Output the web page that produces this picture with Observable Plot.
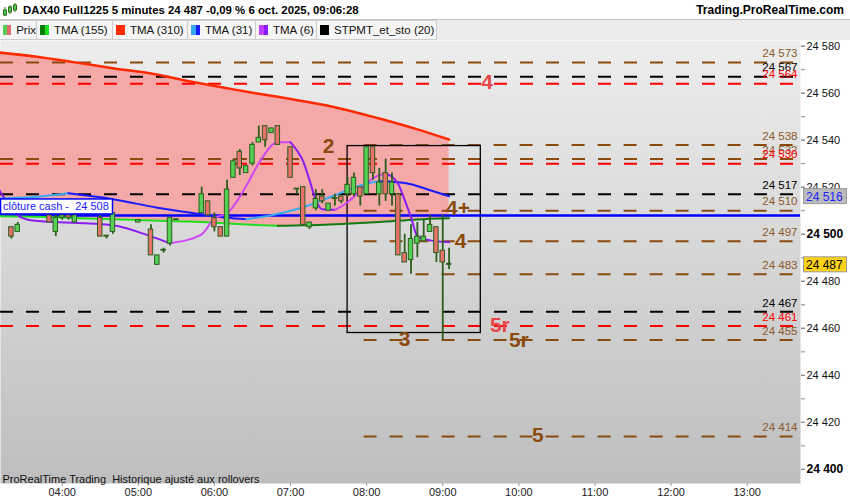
<!DOCTYPE html>
<html>
<head>
<meta charset="utf-8">
<script src="https://cdn.jsdelivr.net/npm/d3@7"></script>
<script src="https://cdn.jsdelivr.net/npm/@observablehq/plot@0.6"></script>
<style>
  body { margin: 0; width: 850px; height: 500px; overflow: hidden; background: #fff; font-family: "Liberation Sans", Arial, sans-serif; }
  #title { position: relative; height: 19px; border-bottom: 1px solid #c4c4c4; font-weight: bold; }
  #title .name { position: absolute; left: 23px; top: 4px; font-size: 11.4px; }
  #title .site { position: absolute; right: 6px; top: 3px; font-size: 12px; }
  #title svg { position: absolute; left: 3px; top: 3px; }
  #legend { height: 20px; background: #ececec; display: flex; }
  #legend .item { box-sizing: border-box; display: flex; align-items: center; height: 20px; background: #f5f5f5; border: 1px solid #cdcdcd; border-left: none; font-size: 11.5px; color: #111; }
  .sw { width: 9px; height: 10px; margin: 0 5px 0 3px; display: flex; }
  .sw i { flex: 1; }
</style>
</head>
<body>
<div id="title">
  <svg width="14" height="14"><g stroke="#2a6a1a" fill="#4fcf4f"><line x1="2" y1="4" x2="2" y2="13"/><rect x="0.5" y="7" width="3" height="5"/><line x1="7" y1="2" x2="7" y2="11"/><rect x="5.5" y="4" width="3" height="5"/><line x1="12" y1="0" x2="12" y2="9"/><rect x="10.5" y="2" width="3" height="5"/></g></svg>
  <span class="name">DAX40 Full1225 5 minutes 24 487 -0,09 % 6 oct. 2025, 09:06:28</span>
  <span class="site">Trading.ProRealTime.com</span>
</div>
<div id="legend">
  <div class="item" style="width:37px"><span class="sw"><i style="background:#55cc55"></i><i style="background:#e56b6b"></i></span>Prix</div>
  <div class="item" style="width:76px"><span class="sw"><i style="background:#0a7a0a"></i><i style="background:#1ee01e"></i></span>TMA (155)</div>
  <div class="item" style="width:75px"><span class="sw"><i style="background:#ff2a00"></i></span>TMA (310)</div>
  <div class="item" style="width:68px"><span class="sw"><i style="background:#35a8f0"></i><i style="background:#1a1aff"></i></span>TMA (31)</div>
  <div class="item" style="width:61px"><span class="sw"><i style="background:#c040ff"></i><i style="background:#8a1aff"></i></span>TMA (6)</div>
  <div class="item" style="width:120px"><span class="sw"><i style="background:#000"></i></span>STPMT_et_sto (20)</div>
</div>
<div id="chart"></div>
<script>
// candles, 5 minutes
const candleTime = ["03:20","03:25","03:50","03:55","04:00","04:05","04:10","04:30","04:35","04:40",
  "05:00","05:10","05:15","05:20","05:25","05:30","05:50","05:55","06:00","06:05",
  "06:10","06:15","06:20","06:25","06:30","06:35","06:40","06:45","06:50","07:00",
  "07:05","07:10","07:15","07:20","07:25","07:30","07:35","07:40","07:45","07:50",
  "07:55","08:00","08:05","08:10","08:15","08:20","08:25","08:30","08:35","08:40",
  "08:45","08:50","08:55","09:00","09:05"];
const candleOpen = [24503,24501,24508,24501,24507,24508,24505,24507,24499,24501,
  24505,24502,24487,24493,24496,24506,24509,24514,24507,24503,
  24499,24524,24535,24526,24530,24539,24546,24543,24546,24537,
  24519,24520,24503,24511,24516,24510,24515,24516,24517,24517,
  24520,24517,24537,24517,24526,24517,24517,24492,24489,24496,
  24497,24501,24503,24493,24487];
const candleHigh = [24503,24505,24509,24508,24509,24508,24508,24508,24499,24509,
  24506,24504,24491,24494,24507,24506,24520,24514,24509,24503,
  24523,24532,24536,24529,24539,24546,24546,24545,24546,24537,
  24519,24520,24505,24519,24519,24513,24517,24516,24524,24526,
  24520,24537,24537,24528,24532,24526,24517,24500,24504,24505,
  24506,24508,24503,24508,24494];
const candleLow = [24498,24501,24505,24499,24506,24506,24505,24499,24498,24500,
  24505,24491,24487,24492,24495,24506,24509,24508,24501,24499,
  24499,24524,24525,24526,24529,24539,24537,24543,24538,24524,
  24517,24504,24502,24510,24513,24510,24512,24513,24516,24516,
  24512,24517,24523,24512,24514,24512,24491,24488,24483,24490,
  24497,24501,24488,24455,24485];
const candleClose = [24499,24504,24505,24507,24508,24507,24508,24499,24499,24509,
  24506,24491,24491,24493,24507,24506,24517,24508,24503,24499,
  24519,24531,24528,24529,24538,24541,24540,24545,24538,24524,
  24519,24504,24505,24515,24514,24513,24515,24514,24521,24524,
  24516,24537,24526,24522,24517,24522,24491,24488,24498,24499,
  24499,24504,24492,24488,24487];

// moving averages
const longTime = ["03:10","03:40","04:10","04:40","05:10","05:40","06:10","06:30","06:50","07:10","07:40","08:10","08:40","09:05"];
const tma310 = [24577.3,24575.5,24573.1,24570.6,24568.4,24565.1,24562.1,24560.2,24558.5,24556.6,24553.4,24549.2,24544.6,24540.3];
const tma155 = [24507.7,24507.4,24506.9,24506.4,24505.8,24505.4,24504.6,24504.0,24503.6,24503.8,24504.4,24505.2,24506.3,24506.8];
const tma31Time = ["03:10","03:35","04:05","04:40","05:15","05:50","06:10","06:25","06:45","07:10","07:35","07:55","08:10","08:20","08:35","08:50","09:05"];
const tma31 = [24515.3,24515.7,24517.4,24514.9,24511.3,24508.5,24507.0,24506.4,24508.1,24511.5,24516.6,24520.8,24522.5,24522.3,24521.3,24518.7,24516.2];
const tma6Time = ["03:10","03:25","03:35","04:40","05:10","05:25","05:50","06:00","06:10","06:25","06:35","06:50","07:00","07:05","07:10",
  "07:15","07:20","07:25","07:35","07:45","07:55","08:05","08:15","08:25","08:30","08:35","08:40","08:50","09:05"];
const tma6 = [24519.1,24508.1,24506.0,24503.8,24499.1,24496.2,24500.0,24506.8,24508.9,24520.4,24530.2,24539.1,24539.1,24535.7,24531.0,
  24523.0,24514.5,24510.6,24510.4,24513.6,24518.7,24523.8,24525.9,24521.3,24514.5,24507.2,24499.1,24497.4,24496.6];

// horizontal levels
const brownFull = [24573, 24532];
const brownLate = [24538, 24510, 24497, 24483, 24455, 24414];
const blackLevels = [24567, 24517, 24467];
const redLevels = [24564, 24530, 24461];
const lateStart = "07:58";
const cashClose = 24508;
const boxTime = ["07:45", "09:30"];
const boxPrice = [24458, 24537.5];

// annotations
const noteText = ["2", "4+", "4", "3", "5r", "5"];
const noteTime = ["07:30", "09:12", "09:14", "08:30", "10:00", "10:15"];
const notePrice = [24537.5, 24511, 24497, 24455.5, 24455, 24414.5];
const redNoteText = ["5r", "4"];
const redNoteTime = ["09:45", "09:35"];
const redNotePrice = [24461.5, 24564.8];

const hourTicks = ["04:00","05:00","06:00","07:00","08:00","09:00","10:00","11:00","12:00","13:00"];
const priceTicks = [24400, 24420, 24440, 24460, 24480, 24500, 24520, 24540, 24560, 24580];
const boldTicks = [24400, 24500];

const toMin = s => { const [h, m] = s.split(":").map(Number); return h * 60 + m; };
const hhmm = m => String(Math.floor(m / 60)).padStart(2, "0") + ":" + String(Math.round(m % 60)).padStart(2, "0");
const fmt = d3.formatLocale({thousands: " ", grouping: [3], decimal: ",", currency: ["", ""]}).format(",d");

const xDomain = [191.4, 822];
const yDomain = [24394, 24582.4];

const candles = candleTime.map((t, i) => ({t: toMin(t), o: candleOpen[i], h: candleHigh[i], l: candleLow[i], c: candleClose[i]}));

// split a line where its slope changes sign, so each piece gets its own colour
function slopeSegments(times, values, up, down) {
  const rows = [];
  let seg = 0, prev = null;
  for (let i = 1; i < times.length; i++) {
    const col = values[i] >= values[i - 1] ? up : down;
    if (col !== prev) { seg++; prev = col; rows.push({t: toMin(times[i - 1]), v: values[i - 1], seg, col}); }
    rows.push({t: toMin(times[i]), v: values[i], seg, col});
  }
  return rows;
}

const cloud = longTime.map((t, i) => ({t: toMin(t), a: tma155[i], b: tma310[i]}));
const line310 = longTime.map((t, i) => ({t: toMin(t), v: tma310[i]}));
const line155 = slopeSegments(longTime, tma155, "#137a13", "#22dd22");
const line31 = slopeSegments(tma31Time, tma31, "#3aaaf0", "#1a1aff");
const line6 = slopeSegments(tma6Time, tma6, "#cf45f5", "#8a1df0");

const dash = {strokeWidth: 2, strokeDasharray: "13,13"};
const levelRule = (vals, color, from) =>
  Plot.ruleY(vals, {y: d => d, x1: from, x2: xDomain[1], stroke: color, ...dash});
const levelLabel = (vals, color) =>
  Plot.text(vals, {y: d => d, text: d => fmt(d), frameAnchor: "right", textAnchor: "end", dx: -3, dy: -9,
    fill: color, fontSize: 11.5});

const brown = "#8b4a0f";
const upBody = "#55d055", downBody = "#e8716b", edge = "#2c5e1c";

const chart = Plot.plot({
  width: 850,
  height: 460,
  marginTop: 0,
  marginRight: 50,
  marginBottom: 17,
  marginLeft: 0,
  x: {domain: xDomain},
  y: {domain: yDomain},
  style: {fontFamily: "'Liberation Sans', Arial, sans-serif", background: "#fff", color: "#111"},
  marks: [
    Plot.frame({fill: "url(#bgGrad)", stroke: "none"}),
    Plot.areaY(cloud, {x: "t", y1: "a", y2: "b", fill: "#f4a8a8", curve: "monotone-x", clip: true}),

    levelRule(brownFull, brown, xDomain[0]),
    levelRule(blackLevels, "#000", xDomain[0]),
    levelRule(redLevels, "#ff0000", xDomain[0]),
    levelRule(brownLate, brown, toMin(lateStart)),

    Plot.rect([0], {x1: toMin(boxTime[0]), x2: toMin(boxTime[1]), y1: boxPrice[0], y2: boxPrice[1],
      fill: "none", stroke: "#000", strokeWidth: 1.3}),

    Plot.ruleY([cashClose], {stroke: "#0000ff", strokeWidth: 2.5}),

    Plot.line(line310, {x: "t", y: "v", stroke: "#ff2a00", strokeWidth: 2.5, curve: "monotone-x", clip: true}),
    Plot.line(line155, {x: "t", y: "v", z: "seg", stroke: "col", strokeWidth: 2, curve: "monotone-x", clip: true}),
    Plot.line(line31, {x: "t", y: "v", z: "seg", stroke: "col", strokeWidth: 2, curve: "monotone-x", clip: true}),
    Plot.line(line6, {x: "t", y: "v", z: "seg", stroke: "col", strokeWidth: 2, curve: "monotone-x", clip: true}),

    Plot.ruleX(candles, {x: "t", y1: "l", y2: "h", stroke: edge, strokeWidth: 1.8}),
    Plot.rect(candles, {x1: d => d.t - 1.75, x2: d => d.t + 1.75,
      y1: "o", y2: d => d.c === d.o ? d.o + 0.4 : d.c,
      fill: d => d.c >= d.o ? upBody : downBody, stroke: edge, strokeWidth: 1}),

    levelLabel(brownFull, "#8b5a2b"),
    levelLabel(brownLate, "#8b5a2b"),
    levelLabel(blackLevels, "#000"),
    levelLabel(redLevels, "#ff0000"),

    Plot.text(noteText, {x: (d, i) => toMin(noteTime[i]), y: (d, i) => notePrice[i], text: d => d,
      fill: brown, fontSize: 21, fontWeight: "bold"}),
    Plot.text(redNoteText, {x: (d, i) => toMin(redNoteTime[i]), y: (d, i) => redNotePrice[i], text: d => d,
      fill: "#e84646", fontSize: 21, fontWeight: "bold"}),

    Plot.text(["ProRealTime Trading\u00a0 Historique ajusté aux rollovers"], {frameAnchor: "bottom-left",
      text: d => d, dx: 2, dy: -1, lineAnchor: "bottom", fontSize: 11, fill: "#111"}),

    Plot.axisX({ticks: hourTicks.map(toMin), tickFormat: hhmm, tickSize: 3, tickPadding: 2,
      fontSize: 11, label: null, stroke: "#999", fill: "#222"}),
    Plot.axisY({anchor: "right", ticks: d3.range(24400, 24581, 10), tickFormat: () => "", tickSize: 4,
      label: null, stroke: "#888"}),
    Plot.axisY({anchor: "right", ticks: priceTicks.filter(v => !boldTicks.includes(v)), tickFormat: fmt,
      tickSize: 4, tickPadding: 2, fontSize: 11, label: null, stroke: "#888", fill: "#111"}),
    Plot.axisY({anchor: "right", ticks: boldTicks, tickFormat: fmt, tickSize: 4, tickPadding: 2,
      fontSize: 12, fontWeight: "bold", label: null, stroke: "#888", fill: "#000"})
  ]
});

const svg = d3.select(chart);
svg.insert("defs", ":first-child").html(
  '<linearGradient id="bgGrad" x1="0" y1="0" x2="0" y2="1">' +
  '<stop offset="0" stop-color="#ededed"/><stop offset="1" stop-color="#bebebe"/></linearGradient>');

const ys = chart.scale("y");
const extra = svg.append("g").attr("text-anchor", "start");
// cash close label
const yc = ys.apply(cashClose);
extra.append("rect").attr("x", 0.5).attr("y", yc - 16).attr("width", 112).attr("height", 15)
  .attr("fill", "#fff").attr("stroke", "#0000ff").attr("stroke-width", 1.5);
extra.append("text").attr("x", 3).attr("y", yc - 4.5).attr("fill", "#1a1aff").attr("font-size", 11)
  .style("white-space", "pre").text("clôture cash -  " + fmt(cashClose));

// price tags on the right axis
function tag(value, bg, fg) {
  const y = ys.apply(value);
  extra.append("rect").attr("x", 803.5).attr("y", y - 7.5).attr("width", 43).attr("height", 15)
    .attr("fill", bg).attr("stroke", "#999");
  extra.append("text").attr("x", 806).attr("y", y + 4.5).attr("fill", fg).attr("font-size", 12).text(fmt(value));
}
tag(Math.round(tma31[tma31.length - 1]), "#bcbcbc", "#2020ff");
tag(candleClose[candleClose.length - 1], "#ffd21a", "#000");

d3.select("#chart").append(() => chart);
</script>
</body>
</html>
